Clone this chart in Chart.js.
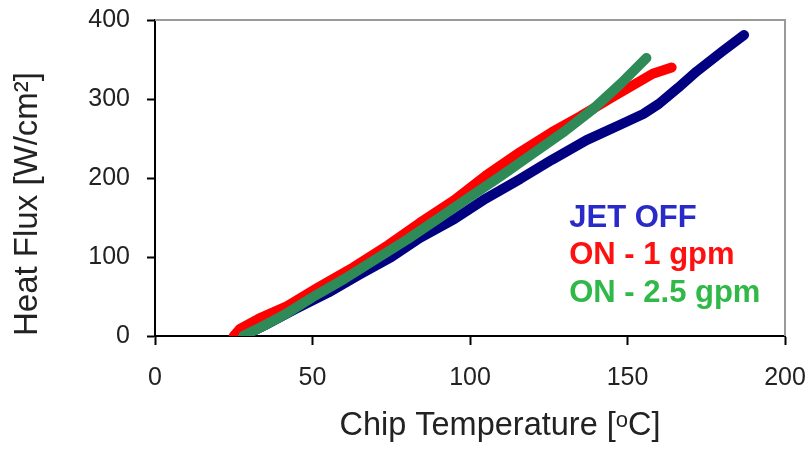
<!DOCTYPE html>
<html>
<head>
<meta charset="utf-8">
<script src="https://cdn.jsdelivr.net/npm/chart.js@4"></script>
<style>
	html, body { margin: 0; padding: 0; background: #fff; }
</style>
</head>
<body>
<canvas id="flux-chart" width="811" height="449"></canvas>
<script>
// jet off
const offTemp = [28, 35, 45, 55, 65, 75, 84, 95, 105, 116, 126, 137, 148, 155, 160, 166, 172, 180, 187];
const offFlux = [0, 14, 35, 55, 78, 100, 124, 148, 174, 199, 223, 248, 268, 281, 294, 314, 335, 360, 381];
// jet on, 1 gpm
const lowTemp = [25, 27, 33, 42, 52, 63, 74, 84, 95, 105, 116, 126, 135, 145, 152, 158, 164];
const lowFlux = [0, 9, 22, 38, 62, 87, 115, 143, 172, 203, 233, 258, 278, 302, 318, 332, 340];
// jet on, 2.5 gpm
const highTemp = [28, 35, 42, 50, 60, 70, 80, 90, 100, 110, 120, 130, 139, 148, 156];
const highFlux = [0, 14, 29, 49, 72, 97, 122, 149, 176, 203, 231, 259, 287, 320, 352];

const xTicks = [0, 50, 100, 150, 200];
const yTicks = [0, 100, 200, 300, 400];

const legendLabels = ["JET OFF", "ON - 1 gpm", "ON - 2.5 gpm"];
const legendColors = ["#2a2ac8", "#ff1010", "#30b848"];

const FONT = "'Liberation Sans', Arial, sans-serif";

const toPoints = (xs, ys) => xs.map((x, i) => ({ x, y: ys[i] }));

const fluxCanvas = document.getElementById("flux-chart");

const band = (label, xs, ys, color, order) => ({
	label,
	data: toPoints(xs, ys),
	showLine: true,
	borderColor: color,
	backgroundColor: color,
	borderWidth: 10,
	borderJoinStyle: "round",
	borderCapStyle: "round",
	pointRadius: 0,
	order,
});

// frame on top/right, x title and the coloured legend text
const extras = {
	id: "extras",
	beforeDatasetsDraw(chart) {
		const { ctx, chartArea: a } = chart;
		ctx.save();
		ctx.strokeStyle = "#9a9a9a";
		ctx.lineWidth = 2;
		ctx.beginPath();
		ctx.moveTo(a.left, a.top);
		ctx.lineTo(a.right, a.top);
		ctx.lineTo(a.right, a.bottom);
		ctx.stroke();
		ctx.restore();
	},
	afterDraw(chart) {
		const { ctx, chartArea: a, scales } = chart;
		ctx.save();
		ctx.fillStyle = "#222";
		ctx.font = "32.5px " + FONT;
		ctx.textAlign = "center";
		ctx.textBaseline = "alphabetic";
		ctx.fillText("Chip Temperature [\u1D52C]", (a.left + a.right) / 2 + 30, a.bottom + 99);

		ctx.font = "bold 31px " + FONT;
		ctx.textAlign = "left";
		const lx = scales.x.getPixelForValue(131.5);
		const ly = scales.y.getPixelForValue(138);
		legendLabels.forEach((t, i) => {
			ctx.fillStyle = legendColors[i];
			ctx.fillText(t, lx, ly + i * 37.5);
		});
		ctx.restore();
	},
};

new Chart(fluxCanvas, {
	type: "scatter",
	data: {
		datasets: [
			band("ON - 2.5 gpm", highTemp, highFlux, "#2e8b57", 1),
			band("ON - 1 gpm", lowTemp, lowFlux, "#ff0000", 2),
			band("JET OFF", offTemp, offFlux, "#000080", 3),
		],
	},
	options: {
		responsive: false,
		animation: false,
		layout: { padding: { top: 20, right: 26, left: 0, bottom: 0 } },
		scales: {
			x: {
				type: "linear",
				min: 0,
				max: 200,
				afterBuildTicks: (s) => { s.ticks = xTicks.map((v) => ({ value: v })); },
				afterFit: (s) => { s.height = 113; s.paddingRight = 0; },
				ticks: { color: "#222", font: { family: FONT, size: 25 }, padding: 18 },
				grid: { drawOnChartArea: false, tickLength: 9, tickWidth: 2, tickColor: "#000" },
				border: { color: "#000", width: 2 },
			},
			y: {
				min: 0,
				max: 400,
				afterBuildTicks: (s) => { s.ticks = yTicks.map((v) => ({ value: v })); },
				afterFit: (s) => { s.width = 155; s.paddingTop = 0; s.paddingBottom = 0; },
				ticks: { color: "#222", font: { family: FONT, size: 25 }, padding: 17 },
				grid: { drawOnChartArea: false, tickLength: 8, tickWidth: 2, tickColor: "#000" },
				border: { color: "#000", width: 2 },
				title: {
					display: true,
					text: "Heat Flux [W/cm\u00B2]",
					align: "start",
					color: "#222",
					font: { family: FONT, size: 33 },
					padding: { top: 8, bottom: 0 },
				},
			},
		},
		plugins: {
			legend: { display: false },
			tooltip: { enabled: false },
		},
	},
	plugins: [extras],
});
</script>
</body>
</html>
